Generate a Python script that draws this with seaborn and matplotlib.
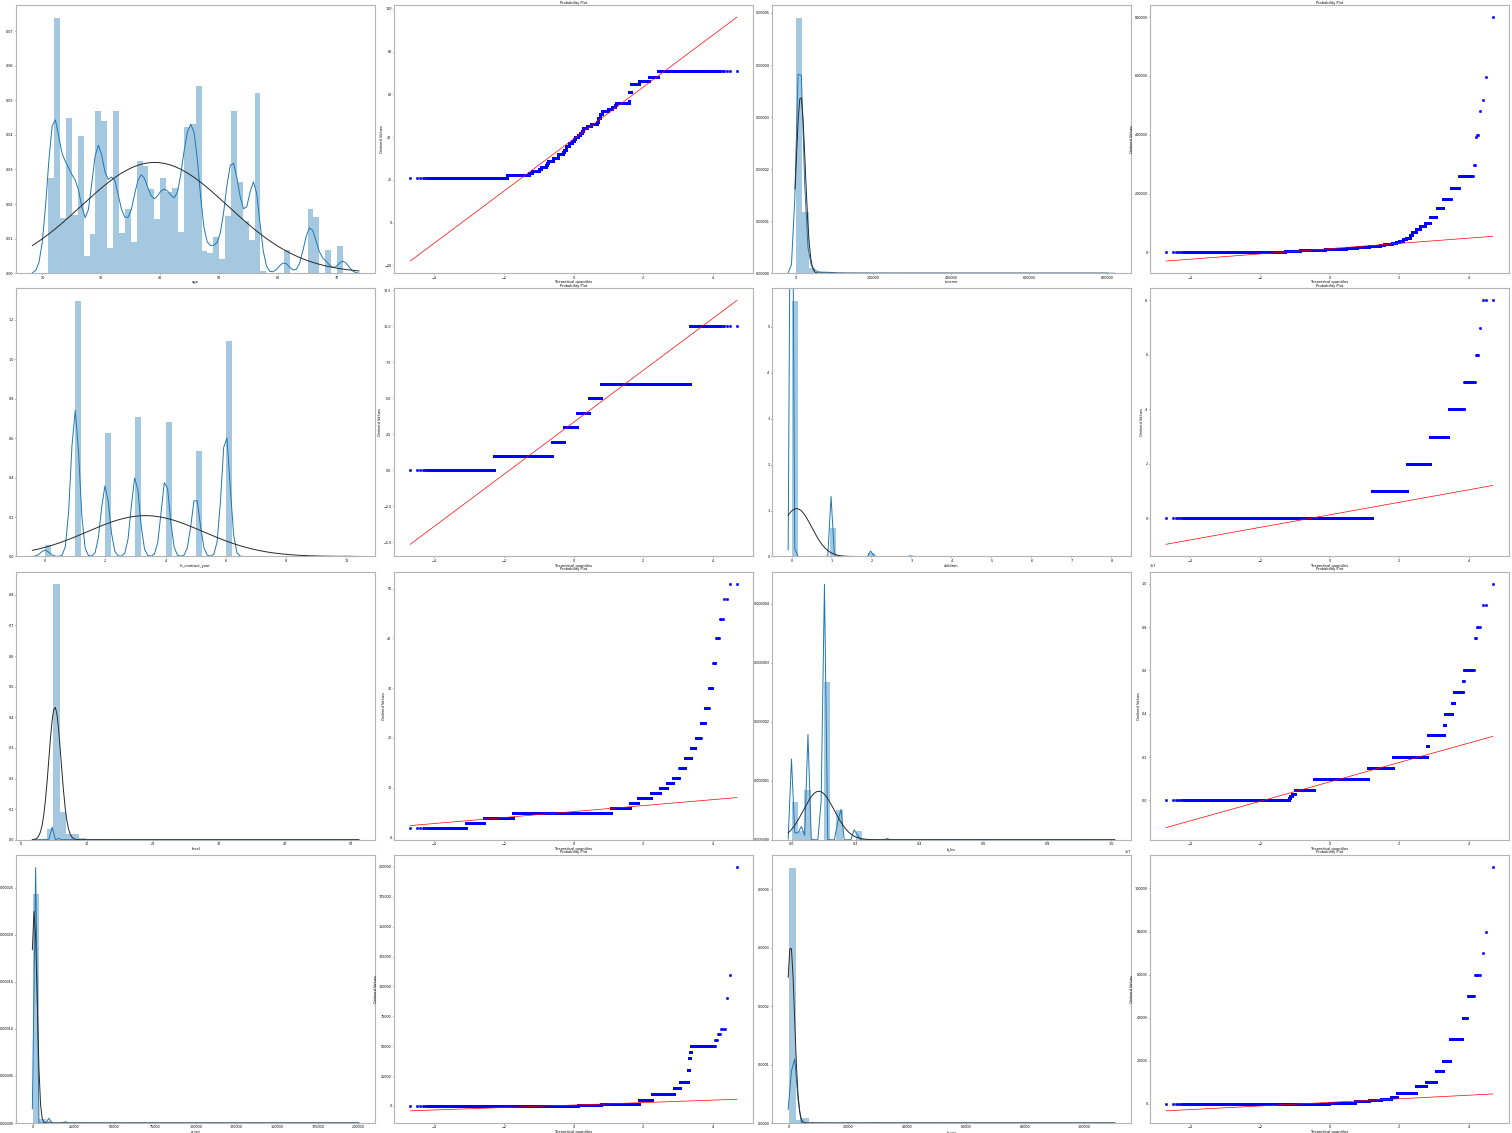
import warnings
from statistics import NormalDist

import matplotlib
matplotlib.use('Agg')
import matplotlib.pyplot as plt
import numpy as np
import pandas as pd
import seaborn as sns

warnings.filterwarnings('ignore')

N_ROWS = 500000

# age: one bar per year, shares
age_values = list(range(21, 70)) + [71]
age_shares = [0.0274, 0.0738, 0.0159, 0.0448, 0.0167, 0.0395, 0.005, 0.0112, 0.0468, 0.044,
              0.0074, 0.047, 0.0115, 0.0185, 0.009, 0.0325, 0.031, 0.0242, 0.0157, 0.0276,
              0.0236, 0.0246, 0.012, 0.0422, 0.043, 0.054, 0.0065, 0.0058, 0.0104, 0.0042,
              0.0165, 0.047, 0.0264, 0.0151, 0.0096, 0.052, 0.0007, 0.0, 0.0, 0.0,
              0.0068, 0.0, 0.0, 0.0, 0.0185, 0.0162, 0.0, 0.0068, 0.0, 0.0079]

income_values = [1000, 3000, 5000, 7000, 9000, 11000, 13000, 15000, 17000, 19000,
                 21000, 23000, 25000, 27000, 29000, 32000, 36000, 40000, 45000, 50000,
                 60000, 70000, 80000, 90000, 100000, 120000, 150000, 180000, 220000, 260000,
                 296000, 392000, 400000, 480000, 520000, 598000, 800000]
income_shares = [0.03, 0.07, 0.10, 0.12, 0.13, 0.12, 0.11, 0.10, 0.05, 0.04,
                 0.03, 0.022, 0.016, 0.012, 0.009, 0.007, 0.006, 0.005, 0.004, 0.003,
                 0.002, 0.002, 0.002, 0.0015, 0.0012, 0.0008, 0.0005, 0.0003, 0.00015, 0.00008,
                 0.000004, 0.000002, 0.000004, 0.000002, 0.000002, 0.000002, 0.000002]

contract_values = [0, 1, 2, 3, 4, 5, 6, 10]
contract_shares = [0.0114, 0.26, 0.126, 0.142, 0.137, 0.107, 0.2196, 0.0004]

children_values = [0, 1, 2, 3, 4, 5, 6, 7, 8]
children_shares = [0.889, 0.098, 0.0111, 0.0016, 0.00026, 0.00004, 0.000006, 0.000002, 0.000006]

level_values = [2, 3, 4, 5, 6, 7, 8, 9, 10, 11, 12, 14, 16, 18, 20, 23, 26, 30, 35, 40, 44, 48, 51]
level_shares = [0.001, 0.004, 0.035, 0.82, 0.09, 0.02, 0.02, 0.006, 0.003, 0.0015, 0.001,
                0.0005, 0.0003, 0.00015, 0.0001, 0.00005, 0.00003, 0.00002, 0.00001,
                0.000008, 0.000006, 0.000004, 0.000004]

b_lm_values = [0, 100000, 200000, 300000, 500000, 1000000, 1500000, 2000000, 2500000,
               3000000, 3500000, 4000000, 4500000, 5000000, 5500000, 6000000, 7500000,
               8000000, 9000000, 10000000]
b_lm_shares = [0.12, 0.008, 0.01, 0.02, 0.168, 0.532, 0.101, 0.0307, 0.00005,
               0.0019, 0.00002, 0.00025, 0.00004, 0.00011, 0.000006, 0.00004, 0.000004,
               0.000006, 0.000004, 0.000002]

a_cnt_values = [0, 300, 600, 1000, 1500, 2000, 5000, 10000, 15000, 20000, 30000, 40000,
                45000, 50000, 55000, 60000, 64000, 90000, 110000, 200000]
a_cnt_shares = [0.45, 0.12, 0.12, 0.12, 0.17, 0.022, 0.018, 0.0101, 0.0008, 0.0006, 0.00005,
                0.00005, 0.00005, 0.00035, 0.000006, 0.000006, 0.000006, 0.000002, 0.000002,
                0.000002]

b_cnt_values = [0, 200, 500, 1000, 1500, 2000, 3000, 5000, 8000, 10000, 15000, 20000, 30000,
                40000, 50000, 60000, 70000, 80000, 110000]
b_cnt_shares = [0.5, 0.15, 0.12, 0.1, 0.06, 0.03, 0.012, 0.02, 0.004, 0.0016, 0.0005, 0.0003,
                0.0002, 0.00003, 0.00002, 0.00001, 0.000002, 0.000002, 0.000002]

columns = [('age', age_values, age_shares),
           ('income', income_values, income_shares),
           ('fn_contract_year', contract_values, contract_shares),
           ('children', children_values, children_shares),
           ('level', level_values, level_shares),
           ('b_lm', b_lm_values, b_lm_shares),
           ('a_cnt', a_cnt_values, a_cnt_shares),
           ('b_cnt', b_cnt_values, b_cnt_shares)]

# smoothing of the kde line per column (style only)
kde_adjust = {'income': 8}


def expand(name, values, shares):
    counts = np.rint(np.asarray(shares) * N_ROWS).astype(int)
    return pd.Series(np.repeat(np.asarray(values, dtype=float), counts), name=name)


class NormFit:
    @staticmethod
    def fit(a):
        return np.mean(a), np.std(a)

    @staticmethod
    def pdf(x, mu, sd):
        return np.exp(-0.5 * ((x - mu) / sd) ** 2) / (sd * np.sqrt(2 * np.pi))


nd = NormalDist()


def prob_plot(ax, s):
    y = np.sort(s.values)
    n = y.size
    m = (np.arange(1, n + 1) - 0.3175) / (n + 0.365)
    m[-1] = 0.5 ** (1.0 / n)
    m[0] = 1 - m[-1]
    osm = np.array([nd.inv_cdf(p) for p in m])
    slope, intercept = np.polyfit(osm, y, 1)
    ax.plot(osm, y, 'bo', markersize=1.8, markeredgewidth=0.3)
    ax.plot(osm, slope * osm + intercept, 'r-', linewidth=0.5)
    ax.set_title('Probability Plot')
    ax.set_xlabel('Theoretical quantiles')
    ax.set_ylabel('Ordered Values')


plt.rcParams.update({
    'font.size': 2.6, 'axes.titlesize': 2.6, 'axes.labelsize': 2.6,
    'xtick.labelsize': 2.4, 'ytick.labelsize': 2.4,
    'xtick.major.size': 1.0, 'ytick.major.size': 1.0,
    'xtick.major.width': 0.4, 'ytick.major.width': 0.4,
    'xtick.major.pad': 0.7, 'ytick.major.pad': 0.7,
    'axes.labelpad': 0.6, 'axes.titlepad': 1.0,
    'axes.linewidth': 0.8, 'axes.edgecolor': '#b4b4b4',
})

fig, axes = plt.subplots(4, 4, figsize=(15.12, 11.33), dpi=100)
plt.subplots_adjust(left=0.0106, right=0.998, top=0.9956, bottom=0.0088, wspace=0.052, hspace=0.056)

for i, (name, values, shares) in enumerate(columns):
    s = expand(name, values, shares)
    ax_d = axes[i // 2, (i % 2) * 2]
    ax_p = axes[i // 2, (i % 2) * 2 + 1]
    sns.distplot(s, bins=50, fit=NormFit, ax=ax_d,
                 kde_kws={'gridsize': 100, 'linewidth': 0.7,
                          'bw_adjust': kde_adjust.get(name, 1)},
                 fit_kws={'linewidth': 0.7})
    ax_d.set_ylabel('')
    ax_d.set_xlabel(name)
    ax_d.ticklabel_format(axis='y', style='plain')
    # keep the bars in view when the kde spikes far above them
    bar_top = max(p.get_height() for p in ax_d.patches)
    line_top = max(np.max(l.get_ydata()) for l in ax_d.lines)
    if line_top > 2 * bar_top:
        ax_d.set_ylim(0, bar_top * 1.05)
    prob_plot(ax_p, s)

fig.savefig('out.png', dpi=100)
